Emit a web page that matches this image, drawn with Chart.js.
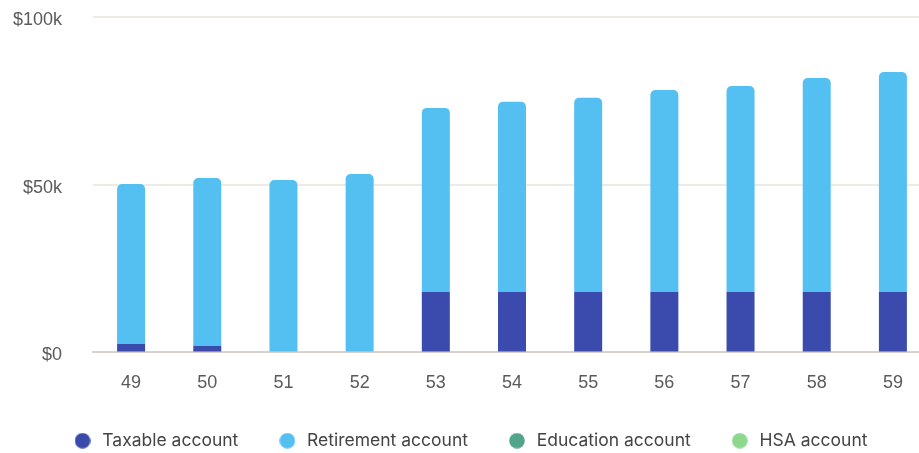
<!DOCTYPE html>
<html>
<head>
<meta charset="utf-8">
<script src="https://cdn.jsdelivr.net/npm/chart.js@4/dist/chart.umd.min.js"></script>
<style>
  html, body { margin: 0; padding: 0; background: #fff; overflow: hidden; }
  canvas { display: block; }
</style>
</head>
<body>
<canvas id="chart" width="931" height="453"></canvas>
<script>
const ages = ['49', '50', '51', '52', '53', '54', '55', '56', '57', '58', '59'];
const taxable = [2500, 1900, 0, 0, 18000, 18000, 18000, 18000, 18000, 18000, 18000];
const retirement = [47700, 50100, 51400, 53200, 54900, 56700, 57900, 60200, 61400, 63800, 65600];
const education = [0, 0, 0, 0, 0, 0, 0, 0, 0, 0, 0];
const hsa = [0, 0, 0, 0, 0, 0, 0, 0, 0, 0, 0];
const yTicks = [0, 50000, 100000];

// legend dots as small canvases, so the gap between dot and text can be tuned
function dot(color) {
  const c = document.createElement('canvas');
  c.width = 16;
  c.height = 16;
  const ctx = c.getContext('2d');
  ctx.fillStyle = color;
  ctx.beginPath();
  ctx.arc(8, 8, 7.8, 0, Math.PI * 2);
  ctx.fill();
  return c;
}

const colors = {
  taxable: '#3a4aad',
  retirement: '#54c0f2',
  education: '#52a58c',
  hsa: '#8dd88d',
};

new Chart(document.getElementById('chart').getContext('2d'), {
  type: 'bar',
  data: {
    labels: ages,
    datasets: [
      { label: 'Taxable account', data: taxable, backgroundColor: colors.taxable, pointStyle: dot(colors.taxable), inflateAmount: 0 },
      {
        label: 'Retirement account',
        data: retirement,
        backgroundColor: colors.retirement,
        pointStyle: dot(colors.retirement),
        borderRadius: { topLeft: 5, topRight: 5, bottomLeft: 0, bottomRight: 0 },
        borderSkipped: false,
        inflateAmount: 0,
      },
      { label: 'Education account', data: education, backgroundColor: colors.education, pointStyle: dot(colors.education), inflateAmount: 0 },
      { label: 'HSA account', data: hsa, backgroundColor: colors.hsa, pointStyle: dot(colors.hsa), inflateAmount: 0 },
    ],
  },
  options: {
    responsive: false,
    animation: false,
    devicePixelRatio: 1,
    barThickness: 28,
    layout: { padding: { top: 17, left: 8, right: 0, bottom: -6.5 } },
    scales: {
      x: {
        stacked: true,
        grid: { display: false, drawTicks: true, tickLength: 20 },
        border: { display: true, color: '#d8d4cb', width: 2 },
        ticks: { color: '#5a5a5a', font: { family: 'Liberation Sans', size: 18 }, padding: 0 },
      },
      y: {
        stacked: true,
        min: 0,
        max: 100000,
        afterFit: scale => { scale.width = 85; },
        afterBuildTicks: scale => { scale.ticks = yTicks.map(v => ({ value: v })); },
        grid: { color: '#eeebe6', lineWidth: 2, drawTicks: true, tickLength: 31, tickColor: 'rgba(0,0,0,0)' },
        border: { display: false },
        ticks: {
          color: '#5a5a5a',
          font: { family: 'Liberation Sans', size: 18 },
          padding: 0,
          labelOffset: 3,
          callback: v => (v === 0 ? '$0' : '$' + v / 1000 + 'k'),
        },
      },
    },
    plugins: {
      tooltip: { enabled: false },
      legend: {
        position: 'bottom',
        labels: {
          usePointStyle: true,
          pointStyleWidth: 22,
          padding: 38,
          color: '#444444',
          font: { family: 'Inter', size: 17.5 },
        },
      },
    },
  },
});
</script>
</body>
</html>
